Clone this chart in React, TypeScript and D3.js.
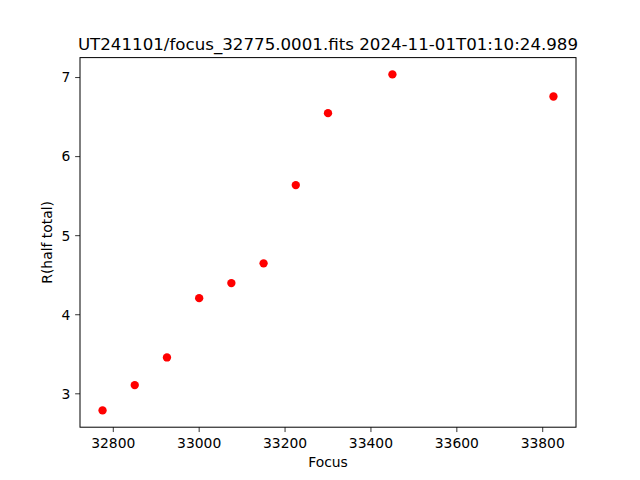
import React from "react";
import * as d3 from "d3";

const focusValues = [32775, 32850, 32925, 33000, 33075, 33150, 33225, 33300, 33450, 33825];
const rHalfTotal = [2.79, 3.11, 3.46, 4.21, 4.4, 4.65, 5.64, 6.55, 7.04, 6.76];
const xTicks = [32800, 33000, 33200, 33400, 33600, 33800];
const yTicks = [3, 4, 5, 6, 7];
const title = "UT241101/focus_32775.0001.fits 2024-11-01T01:10:24.989";

export default function App() {
  const W = 640, H = 480;
  const left = 80, right = 576, top = 57.6, bottom = 427.2;
  const xMin = d3.min(focusValues)!, xMax = d3.max(focusValues)!;
  const yMin = d3.min(rHalfTotal)!, yMax = d3.max(rHalfTotal)!;
  const xm = (xMax - xMin) * 0.05, ym = (yMax - yMin) * 0.05;
  const x = d3.scaleLinear().domain([xMin - xm, xMax + xm]).range([left, right]);
  const y = d3.scaleLinear().domain([yMin - ym, yMax + ym]).range([bottom, top]);
  const font = "'DejaVu Sans', sans-serif";
  return (
    <svg width={W} height={H} style={{ position: "absolute", left: 0, top: 0 }} fontFamily={font}>
      <rect width={W} height={H} fill="#fff" />
      <text x={(left + right) / 2} y={49.5} textAnchor="middle" fontSize={16.67} fill="#000">{title}</text>
      {focusValues.map((f, i) => (
        <circle key={i} cx={x(f)} cy={y(rHalfTotal[i])} r={4.17} fill="#ff0000" />
      ))}
      <rect x={left} y={top} width={right - left} height={bottom - top} fill="none" stroke="#000" strokeWidth={1} />
      {xTicks.map((t) => (
        <g key={t}>
          <line x1={x(t)} x2={x(t)} y1={bottom} y2={bottom + 4.86} stroke="#000" strokeWidth={0.8} />
          <text x={x(t)} y={bottom + 20.5} textAnchor="middle" fontSize={13.89} fill="#000">{t}</text>
        </g>
      ))}
      {yTicks.map((t) => (
        <g key={t}>
          <line x1={left} x2={left - 4.86} y1={y(t)} y2={y(t)} stroke="#000" strokeWidth={0.8} />
          <text x={left - 9.7} y={y(t)} dy="0.35em" textAnchor="end" fontSize={13.89} fill="#000">{t}</text>
        </g>
      ))}
      <text x={(left + right) / 2} y={467} textAnchor="middle" fontSize={13.89} fill="#000">Focus</text>
      <text transform={`translate(52,${(top + bottom) / 2}) rotate(-90)`} textAnchor="middle" fontSize={13.89} fill="#000">R(half total)</text>
    </svg>
  );
}
